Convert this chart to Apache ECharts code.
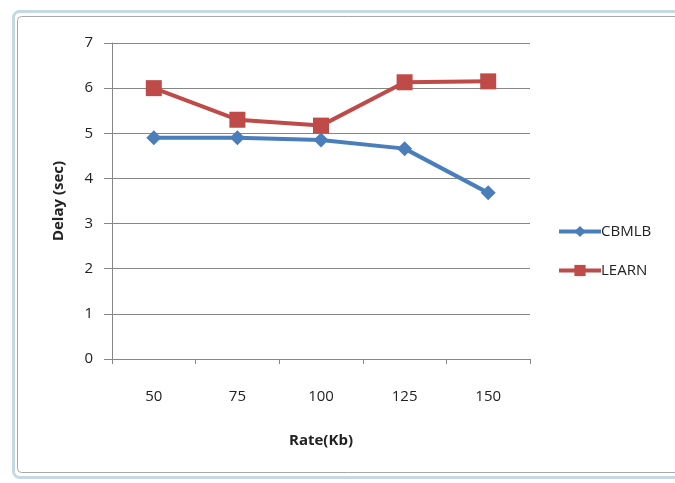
<!DOCTYPE html>
<html>
<head>
<meta charset="utf-8">
<script src="https://cdn.jsdelivr.net/npm/echarts@6/dist/echarts.min.js"></script>
<style>
  html, body { margin: 0; padding: 0; background: #ffffff; }
  #chart { width: 675px; height: 483px; }
</style>
</head>
<body>
<div id="chart"></div>
<script>
// Delay versus transmission rate for two schemes
const rates = ['50', '75', '100', '125', '150'];
const cbmlb = [4.9, 4.9, 4.85, 4.66, 3.68];
const learn = [6.0, 5.3, 5.17, 6.13, 6.15];
const yTicks = { min: 0, max: 7, interval: 1 };

const labelFont = { fontFamily: 'Open Sans, Liberation Sans, sans-serif', fontSize: 15, color: '#222' };

const chart = echarts.init(document.getElementById('chart'));
chart.setOption({
  animation: false,
  backgroundColor: '#ffffff',
  graphic: [
    { type: 'rect', shape: { x: 13.5, y: 11.5, width: 672, height: 466, r: 6 },
      style: { fill: 'none', stroke: '#c5d9e3', lineWidth: 3 } },
    { type: 'rect', shape: { x: 17.5, y: 16.5, width: 667, height: 456, r: 4 },
      style: { fill: 'none', stroke: '#a8a8a8', lineWidth: 1 } }
  ],
  grid: { left: 112, right: 145, top: 43, bottom: 124 },
  legend: {
    orient: 'vertical',
    left: 552,
    top: 219,
    itemGap: 24,
    itemWidth: 42,
    itemHeight: 14,
    lineStyle: { width: 4 },
    textStyle: { ...labelFont, fontSize: 15, padding: [0, 0, 0, -5] },
    data: ['CBMLB', 'LEARN']
  },
  xAxis: {
    type: 'category',
    data: rates,
    boundaryGap: true,
    name: 'Rate(Kb)',
    nameLocation: 'middle',
    nameGap: 74,
    nameTextStyle: { ...labelFont, fontWeight: 'bold', fontSize: 15 },
    axisLine: { lineStyle: { color: '#868686', width: 1 } },
    axisTick: { show: true, length: 5, lineStyle: { color: '#868686' } },
    axisLabel: { ...labelFont, margin: 30 }
  },
  yAxis: {
    type: 'value',
    min: yTicks.min,
    max: yTicks.max,
    interval: yTicks.interval,
    name: 'Delay (sec)',
    nameLocation: 'middle',
    nameGap: 46,
    nameRotate: 90,
    nameTextStyle: { ...labelFont, fontWeight: 'bold', fontSize: 15 },
    axisLine: { show: true, lineStyle: { color: '#868686', width: 1 } },
    axisTick: { show: true, length: 8, lineStyle: { color: '#868686' } },
    axisLabel: { ...labelFont, margin: 19 },
    splitLine: { lineStyle: { color: '#868686', width: 1 } }
  },
  series: [
    {
      name: 'CBMLB',
      type: 'line',
      data: cbmlb,
      symbol: 'diamond',
      symbolSize: 15,
      color: '#4a7ebb',
      lineStyle: { width: 4, color: '#4a7ebb' },
      itemStyle: { color: '#4a7ebb' }
    },
    {
      name: 'LEARN',
      type: 'line',
      data: learn,
      symbol: 'rect',
      symbolSize: 16,
      color: '#be4b48',
      lineStyle: { width: 4, color: '#be4b48' },
      itemStyle: { color: '#be4b48' }
    }
  ]
});
</script>
</body>
</html>
